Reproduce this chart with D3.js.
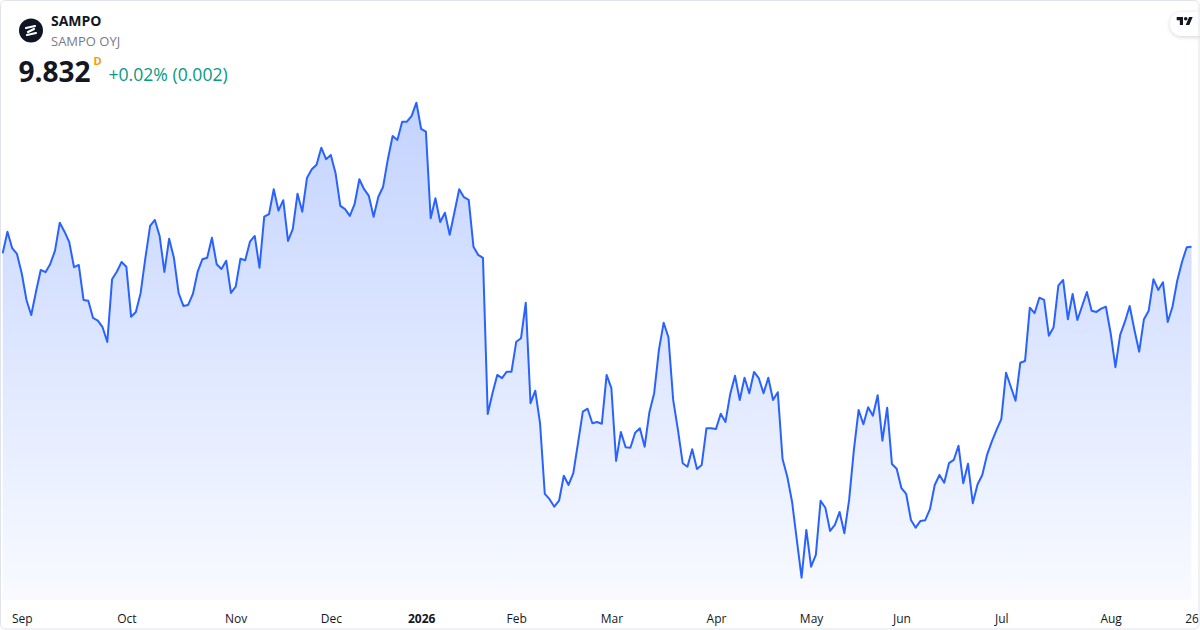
<!DOCTYPE html>
<html lang="en">
<head>
    <meta charset="UTF-8">
    <title>SAMPO</title>
    <script src="https://d3js.org/d3.v7.min.js"></script>
    <style>
        body { margin: 0; background: #ffffff; }
        svg { display: block; font-family: "Open Sans", "Noto Sans", sans-serif; }
    </style>
</head>
<body>
    <script>
        // Daily closes, 26 Aug 2025 -> 26 Aug 2026 (one per trading day)
        const closes = [
            9.806, 9.892, 9.826, 9.803, 9.726, 9.619, 9.559, 9.652, 9.739, 9.730,
            9.763, 9.816, 9.928, 9.892, 9.850, 9.750, 9.759, 9.619, 9.616, 9.547,
            9.536, 9.510, 9.451, 9.702, 9.732, 9.771, 9.752, 9.552, 9.571, 9.646,
            9.786, 9.915, 9.939, 9.875, 9.731, 9.864, 9.788, 9.646, 9.595, 9.599,
            9.643, 9.732, 9.782, 9.788, 9.868, 9.762, 9.743, 9.776, 9.647, 9.672,
            9.784, 9.778, 9.852, 9.875, 9.748, 9.952, 9.962, 10.062, 9.976, 10.018,
            9.855, 9.902, 10.044, 9.972, 10.108, 10.142, 10.160, 10.228, 10.182, 10.199,
            10.126, 9.995, 9.982, 9.955, 10.002, 10.102, 10.062, 10.035, 9.952, 10.032,
            10.072, 10.182, 10.275, 10.259, 10.332, 10.332, 10.355, 10.408, 10.303, 10.292,
            9.946, 10.026, 9.931, 9.968, 9.880, 9.970, 10.062, 10.030, 10.019, 9.832,
            9.799, 9.787, 9.163, 9.246, 9.319, 9.306, 9.332, 9.332, 9.452, 9.466,
            9.608, 9.206, 9.256, 9.126, 8.843, 8.822, 8.792, 8.816, 8.916, 8.879,
            8.926, 9.048, 9.172, 9.184, 9.126, 9.131, 9.124, 9.319, 9.266, 8.975,
            9.091, 9.030, 9.028, 9.088, 9.106, 9.032, 9.170, 9.246, 9.419, 9.528,
            9.470, 9.219, 9.099, 8.966, 8.952, 9.022, 8.943, 8.959, 9.106, 9.106,
            9.103, 9.164, 9.131, 9.243, 9.316, 9.219, 9.308, 9.246, 9.331, 9.306,
            9.246, 9.308, 9.219, 9.250, 8.983, 8.912, 8.812, 8.659, 8.508, 8.699,
            8.552, 8.599, 8.816, 8.788, 8.695, 8.719, 8.771, 8.686, 8.819, 9.019,
            9.179, 9.122, 9.190, 9.156, 9.238, 9.056, 9.188, 8.963, 8.944, 8.866,
            8.843, 8.739, 8.708, 8.735, 8.738, 8.782, 8.879, 8.919, 8.888, 8.966,
            8.979, 9.036, 8.886, 8.964, 8.806, 8.881, 8.919, 8.999, 9.052, 9.099,
            9.142, 9.328, 9.272, 9.216, 9.368, 9.375, 9.588, 9.566, 9.628, 9.619,
            9.476, 9.510, 9.676, 9.699, 9.542, 9.643, 9.539, 9.595, 9.651, 9.576,
            9.571, 9.584, 9.592, 9.486, 9.350, 9.479, 9.532, 9.595, 9.499, 9.412,
            9.542, 9.576, 9.702, 9.659, 9.690, 9.531, 9.592, 9.696, 9.771, 9.830,
            9.832
        ];

        // x axis: label and the trading-day index it sits on
        const tickLabels = ["Sep", "Oct", "Nov", "Dec", "2026", "Feb", "Mar", "Apr", "May", "Jun", "Jul", "Aug", "26"];
        const tickIndex  = [4, 26, 49, 69, 88, 108, 128, 150, 170, 189, 210, 233, 250];
        const yearTicks  = ["2026"];

        const symbol = "SAMPO";
        const company = "SAMPO OYJ";
        const lastPrice = "9.832";
        const change = "+0.02% (0.002)";

        const w = 1200;
        const h = 630;
        const plotLeft = 2.7;
        const plotRight = 1191.5;
        const plotBottom = 600;

        const svg = d3.select("body")
            .append("svg")
            .attr("width", w)
            .attr("height", h);

        const defs = svg.append("defs");
        const grad = defs.append("linearGradient")
            .attr("id", "areaFill")
            .attr("gradientUnits", "userSpaceOnUse")
            .attr("x1", 0).attr("x2", 0)
            .attr("y1", 100).attr("y2", plotBottom);
        grad.append("stop").attr("offset", 0).attr("stop-color", "#2962ff").attr("stop-opacity", 0.28);
        grad.append("stop").attr("offset", 1).attr("stop-color", "#2962ff").attr("stop-opacity", 0.03);

        const shadow = defs.append("filter").attr("id", "pillShadow")
            .attr("x", "-50%").attr("y", "-50%").attr("width", "200%").attr("height", "200%");
        shadow.append("feDropShadow")
            .attr("dx", 0).attr("dy", 1).attr("stdDeviation", 2)
            .attr("flood-color", "#000").attr("flood-opacity", 0.18);

        // scales
        const xScale = d3.scaleLinear()
            .domain([0, closes.length - 1])
            .range([plotLeft, plotRight]);
        const yScale = d3.scaleLinear()
            .domain([8.5, 10.5])
            .range([579.7, 79.7]);

        // area + line
        const area = d3.area()
            .x((d, i) => xScale(i))
            .y0(plotBottom)
            .y1(d => yScale(d));
        const line = d3.line()
            .x((d, i) => xScale(i))
            .y(d => yScale(d));

        svg.append("path")
            .datum(closes)
            .attr("d", area)
            .attr("fill", "url(#areaFill)");
        svg.append("path")
            .datum(closes)
            .attr("d", line)
            .attr("fill", "none")
            .attr("stroke", "#2962ff")
            .attr("stroke-width", 2)
            .attr("stroke-linejoin", "round");

        // x axis labels
        const xAxis = d3.axisBottom(xScale)
            .tickValues(tickIndex)
            .tickFormat((d, i) => tickLabels[i])
            .tickSize(0)
            .tickPadding(0);
        const gx = svg.append("g")
            .attr("transform", "translate(0,611)")
            .call(xAxis);
        gx.select(".domain").remove();
        gx.selectAll("text")
            .attr("dy", null)
            .attr("y", 11.5)
            .attr("fill", "#131722")
            .style("font-size", "12px")
            .style("font-family", "'Open Sans', 'Noto Sans', sans-serif")
            .style("font-weight", d => yearTicks.includes(tickLabels[tickIndex.indexOf(d)]) ? 700 : 400);

        // header: logo
        const logo = svg.append("g").attr("transform", "translate(31,30.5)");
        logo.append("circle").attr("r", 12).attr("fill", "#0f1523");
        logo.append("path")
            .attr("d", "M-5,-2.5 L4,-4.5 M-4,4.5 L5,2.5 M3,-1.5 L-3,1.5")
            .attr("stroke", "#ffffff")
            .attr("stroke-width", 2.2)
            .attr("stroke-linecap", "round")
            .attr("fill", "none");

        svg.append("text")
            .attr("x", 51).attr("y", 26)
            .attr("fill", "#131722")
            .style("font-size", "14px").style("font-weight", 700)
            .text(symbol);
        svg.append("text")
            .attr("x", 51).attr("y", 45.5)
            .attr("fill", "#787b86")
            .style("font-size", "13px")
            .text(company);
        svg.append("text")
            .attr("x", 18.5).attr("y", 81.7)
            .attr("fill", "#131722")
            .style("font-size", "28px").style("font-weight", 700)
            .text(lastPrice);
        svg.append("text")
            .attr("x", 93.5).attr("y", 65)
            .attr("fill", "#ff9800")
            .style("font-size", "11px").style("font-weight", 700)
            .text("D");
        svg.append("text")
            .attr("x", 108.5).attr("y", 81)
            .attr("fill", "#089981")
            .style("font-size", "17.6px")
            .text(change);

        // TradingView badge top right
        svg.append("rect")
            .attr("x", 1170).attr("y", 12)
            .attr("width", 50).attr("height", 24)
            .attr("rx", 12)
            .attr("fill", "#ffffff")
            .attr("filter", "url(#pillShadow)");
        const tv = svg.append("g").attr("transform", "translate(1176.7,15.2) scale(0.45)").attr("fill", "#131722");
        tv.append("path").attr("d", "M14 22H7V11H0V4h14v18zM28 22h-8l7.5-18h8L28 22z");
        tv.append("circle").attr("cx", 20).attr("cy", 8).attr("r", 4);

        // frame
        svg.append("rect")
            .attr("x", 0.5).attr("y", 0.5)
            .attr("width", w - 1.5).attr("height", h - 1.5)
            .attr("rx", 5)
            .attr("fill", "none")
            .attr("stroke", "#e0e3eb");
    </script>
</body>
</html>
